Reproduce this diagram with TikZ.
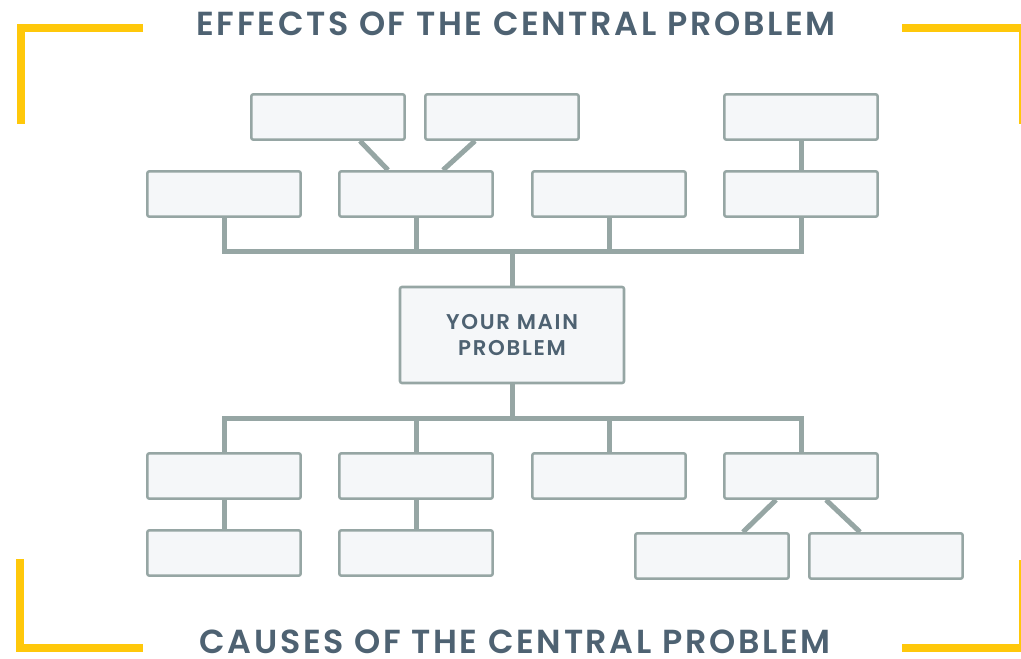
\documentclass[tikz,border=0pt]{standalone}
\usepackage{fontspec}
\setmainfont{Poppins}
\newfontfamily\headfont{Poppins}[UprightFont=* SemiBold, LetterSpace=8]
\usetikzlibrary{calc}
\definecolor{slate}{HTML}{4E6272}
\definecolor{boxline}{HTML}{96A6A4}
\definecolor{boxfill}{HTML}{F5F7F9}
\definecolor{mustard}{HTML}{FFC80A}
\tikzset{
 blank/.style={draw=boxline, fill=boxfill, line width=1.9pt, rounded corners=1.5pt,
   minimum width=115pt, minimum height=34pt, inner sep=0},
 link/.style={boxline, line width=3.75pt},
 corner/.style={mustard, line width=6pt},
 heading/.style={text=slate, font=\headfont\fontsize{25}{30}\selectfont}
}

\begin{document}
\begin{tikzpicture}[x=0.75pt,y=-0.75pt]
\useasboundingbox (0,0) rectangle (1021,659);
% yellow brackets
\draw[corner] (143,28) -| (21,124);
\draw[corner] (902,28) -| (1023,124);
\draw[corner] (20,559) |- (143,648);
\draw[corner] (902,648) -| (1023,560);
\node[heading] (effects) at (516,24) {EFFECTS OF THE CENTRAL PROBLEM};
\node[heading] (causes) at (515,642) {CAUSES OF THE CENTRAL PROBLEM};
% boxes
\node[blank, minimum width=168pt, minimum height=72pt, align=center, text=slate,
  font=\headfont\fontsize{16}{20}\selectfont] (main) at (512,335) {YOUR MAIN\\PROBLEM};
\foreach \n/\x in {1/328,2/502,3/801} \node[blank] (a\n) at (\x,117) {};
\foreach \n/\x in {1/224,2/416,3/609,4/801} {
 \node[blank] (b\n) at (\x,194) {};
 \node[blank] (c\n) at (\x,476) {};
}
\foreach \n/\x/\y in {1/224/553,2/416/553,3/712/556,4/886/556} \node[blank] (d\n) at (\x,\y) {};
\coordinate (topbus) at (512,252);
\coordinate (lowbus) at (512,418);
% effects
\draw[link] (b1.south) |- (topbus) -| (b4.south);
\foreach \n in {2,3} \draw[link] (b\n.south) -- (b\n.south |- topbus);
\draw[link] (main.north) -- (topbus);
\draw[link] ($(a1.south)+(32,0)$) -- ($(b2.north)+(-28,0)$);
\draw[link] ($(a2.south)+(-27,0)$) -- ($(b2.north)+(27,0)$);
\draw[link] (a3.south) -- (b4.north);
% causes
\draw[link] (c1.north) |- (lowbus) -| (c4.north);
\foreach \n in {2,3} \draw[link] (c\n.north) -- (c\n.north |- lowbus);
\draw[link] (main.south) -- (lowbus);
\foreach \n in {1,2} \draw[link] (c\n.south) -- (d\n.north);
\draw[link] ($(c4.south)+(-25,0)$) -- ($(d3.north)+(31,0)$);
\draw[link] ($(c4.south)+(25,0)$) -- ($(d4.north)+(-26,0)$);
\end{tikzpicture}
\end{document}
